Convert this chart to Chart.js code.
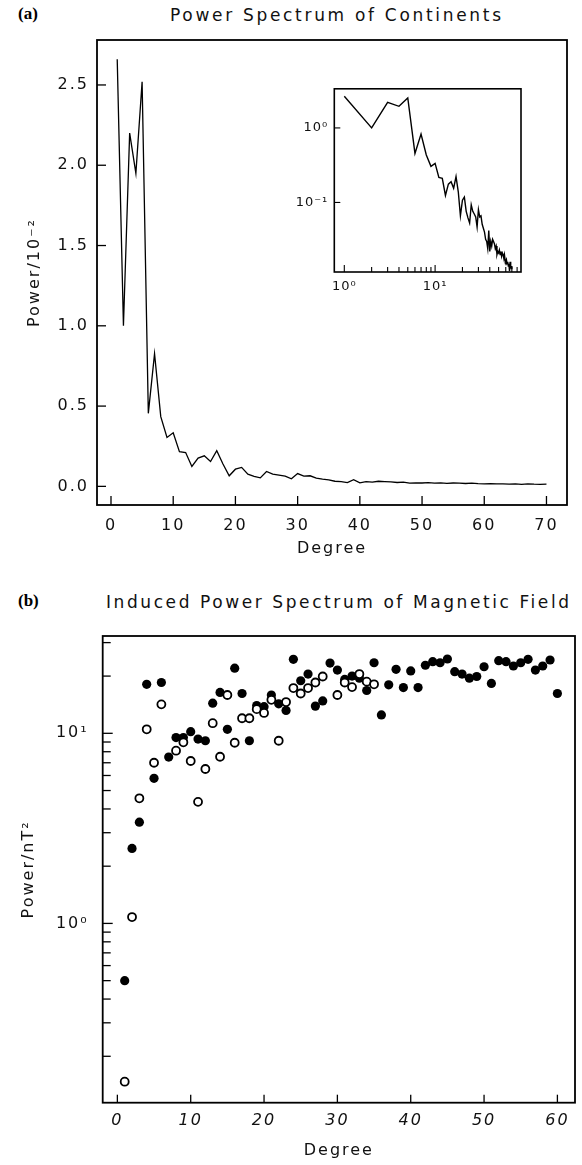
<!DOCTYPE html>
<html>
<head>
<meta charset="utf-8">
<script src="https://cdn.jsdelivr.net/npm/chart.js@4.4.1/dist/chart.umd.min.js"></script>
<style>
  html, body { margin: 0; padding: 0; background: #fff; }
  #page { position: relative; width: 582px; height: 1165px; overflow: hidden; }
  canvas { position: absolute; }
  .tag { position: absolute; font: bold 17px "Liberation Serif", serif; color: #000; }
  .ttl { position: absolute; font: 17px "DejaVu Sans", sans-serif; color: #111; white-space: nowrap; }
</style>
</head>
<body>
<div id="page">
  <div class="tag" style="left:18px;top:4px">(a)</div>
  <div class="ttl" id="ttl-a" data-left="170" data-width="331" style="top:5px">Power Spectrum of Continents</div>
  <div class="tag" style="left:18px;top:591px">(b)</div>
  <div class="ttl" id="ttl-b" data-left="106" data-width="463" style="top:592px">Induced Power Spectrum of Magnetic Field</div>

  <canvas id="chart-a" width="582" height="580" style="left:0;top:0"></canvas>
  <canvas id="chart-inset" width="260" height="225" style="left:270px;top:75px"></canvas>
  <canvas id="chart-b" width="582" height="585" style="left:0;top:580px"></canvas>
</div>

<script>
/* ========= Data ========= */
// (a) continent power spectrum, units of 10^-2
const degreesA = [
   1,  2,  3,  4,  5,  6,  7,  8,  9, 10, 11, 12, 13, 14, 15, 16, 17, 18, 19, 20,
  21, 22, 23, 24, 25, 26, 27, 28, 29, 30, 31, 32, 33, 34, 35, 36, 37, 38, 39, 40,
  41, 42, 43, 44, 45, 46, 47, 48, 49, 50, 51, 52, 53, 54, 55, 56, 57, 58, 59, 60,
  61, 62, 63, 64, 65, 66, 67, 68, 69, 70
];
const powerA = [
  2.66, 1.00, 2.20, 1.95, 2.52, 0.455, 0.826, 0.434, 0.305, 0.334,
  0.216, 0.211, 0.124, 0.176, 0.190, 0.155, 0.222, 0.139, 0.066, 0.107,
  0.118, 0.076, 0.062, 0.053, 0.093, 0.076, 0.070, 0.064, 0.047, 0.080,
  0.064, 0.066, 0.051, 0.045, 0.040, 0.032, 0.030, 0.024, 0.042, 0.022,
  0.030, 0.026, 0.032, 0.030, 0.028, 0.024, 0.026, 0.020, 0.022, 0.021,
  0.023, 0.020, 0.022, 0.019, 0.021, 0.020, 0.018, 0.020, 0.017, 0.016,
  0.017, 0.015, 0.016, 0.014, 0.015, 0.012, 0.016, 0.014, 0.013, 0.014
];

// (b) induced magnetic power, nT^2
const degreesB = [
   1,  2,  3,  4,  5,  6,  7,  8,  9, 10, 11, 12, 13, 14, 15, 16, 17, 18, 19, 20,
  21, 22, 23, 24, 25, 26, 27, 28, 29, 30, 31, 32, 33, 34, 35, 36, 37, 38, 39, 40,
  41, 42, 43, 44, 45, 46, 47, 48, 49, 50, 51, 52, 53, 54, 55, 56, 57, 58, 59, 60
];
const filledB = [
  0.50, 2.48, 3.41, 18.1, 5.8, 18.5, 7.5, 9.5, 9.5, 10.2,
  9.33, 9.14, 14.4, 16.4, 10.5, 22.0, 16.2, 9.14, 14.0, 13.8,
  15.9, 14.3, 13.2, 24.5, 18.9, 20.5, 13.9, 14.8, 23.4, 21.5,
  19.2, 20.0, 19.5, 16.8, 23.5, 12.5, 18.0, 21.7, 17.4, 21.3,
  17.4, 22.8, 23.8, 23.5, 24.6, 21.1, 20.5, 19.5, 19.9, 22.4,
  18.3, 24.1, 23.8, 22.6, 23.5, 24.5, 21.5, 22.6, 24.3, 16.2
];
const openB = [
  0.147, 1.08, 4.55, 10.5, 7.0, 14.2, null, 8.1, 8.97, 7.15,
  4.36, 6.49, 11.3, 7.53, 15.9, 8.92, 12.0, 12.0, 13.4, 12.8,
  15.0, 9.14, 14.6, 17.3, 16.2, 17.3, 18.5, 19.9, null, 15.9,
  18.5, 17.5, 20.5, 18.7, 18.1
];

// ticks
const xTicksA   = [0, 10, 20, 30, 40, 50, 60, 70];
const yTicksA   = [0, 0.5, 1.0, 1.5, 2.0, 2.5];
const xTicksB   = [0, 10, 20, 30, 40, 50, 60];
const yTicksB   = [0.2, 0.3, 0.4, 0.5, 0.6, 0.7, 0.8, 0.9, 1, 2, 3, 4, 5, 6, 7, 8, 9, 10, 20, 30];
const xTicksIn  = [1, 2, 3, 4, 5, 6, 7, 8, 9, 10, 20, 30, 40, 50, 60, 70, 80];
const yTicksIn  = [0.1, 1];
const powLabels = { 0.1: '10⁻¹', 1: '10⁰', 10: '10¹' };

const FONT = 'DejaVu Sans';
const INK  = '#111';

/* ========= Helpers ========= */
const pairs = (xs, ys) => xs.map((x, i) => ({ x, y: ys[i] })).filter(p => p.y != null);
const setTicks = list => s => { s.ticks = list.map(v => ({ value: v })); };
const fixSize = (key, size) => s => { s[key] = size; };
const isDecade = v => Math.abs(Math.log10(v) - Math.round(Math.log10(v))) < 1e-9;

// box round the plot area + tick marks pointing inward
const frameTicks = {
  id: 'frameTicks',
  beforeDraw(chart, args, o) {
    const { ctx, chartArea: a } = chart;
    ctx.letterSpacing = o.spacing || '0px';
    ctx.save();
    ctx.fillStyle = '#fff';
    ctx.fillRect(a.left, a.top, a.width, a.height);
    ctx.restore();
  },
  afterDraw(chart, args, o) {
    const { ctx, chartArea: a } = chart;
    ctx.save();
    ctx.strokeStyle = '#000';
    ctx.lineWidth = o.frame;
    ctx.strokeRect(a.left, a.top, a.width, a.height);
    ctx.lineWidth = o.tickWidth;
    ['x', 'y'].forEach(id => {
      const s = chart.scales[id];
      s.ticks.forEach(t => {
        const major = s.type !== 'logarithmic' || isDecade(t.value);
        const len = major ? o[id][0] : o[id][1];
        if (!len) return;
        const p = s.getPixelForValue(t.value);
        ctx.beginPath();
        if (id === 'x') { ctx.moveTo(p, a.bottom); ctx.lineTo(p, a.bottom - len); }
        else { ctx.moveTo(a.left, p); ctx.lineTo(a.left + len, p); }
        ctx.stroke();
      });
    });
    ctx.restore();
  }
};

const noGrid = { display: true, drawOnChartArea: false, drawTicks: false };
const noBorder = { display: false };

/* ========= (a) main ========= */
new Chart(document.getElementById('chart-a'), {
  type: 'line',
  data: {
    datasets: [{
      data: pairs(degreesA, powerA),
      borderColor: '#000', borderWidth: 1.3,
      pointRadius: 0, tension: 0, fill: false
    }]
  },
  options: {
    responsive: false, animation: false, events: [],
    layout: { padding: { left: 0, top: 40, right: 15, bottom: 0 } },
    plugins: {
      legend: { display: false }, tooltip: { enabled: false },
      frameTicks: { frame: 1.8, tickWidth: 1.3, spacing: '2px', x: [9, 0], y: [9, 0] }
    },
    scales: {
      x: {
        type: 'linear', min: -2.25, max: 73.3,
        afterBuildTicks: setTicks(xTicksA), afterFit: fixSize('height', 75),
        grid: noGrid, border: noBorder,
        ticks: { autoSkip: false, maxRotation: 0, padding: 11, color: INK,
                 font: { family: FONT, size: 16 }, callback: v => String(v) },
        title: { display: true, text: 'Degree', color: INK,
                 font: { family: FONT, size: 16 }, padding: { top: 0, bottom: 22 } }
      },
      y: {
        type: 'linear', min: -0.116, max: 2.78,
        afterBuildTicks: setTicks(yTicksA), afterFit: fixSize('width', 97),
        grid: noGrid, border: noBorder,
        ticks: { autoSkip: false, padding: 8, color: INK,
                 font: { family: FONT, size: 16 }, callback: v => v.toFixed(1) },
        title: { display: true, text: 'Power/10⁻²', color: INK,
                 font: { family: FONT, size: 16 }, padding: { top: 25, bottom: 0 } }
      }
    }
  },
  plugins: [frameTicks]
});

/* ========= (a) inset, log-log ========= */
new Chart(document.getElementById('chart-inset'), {
  type: 'line',
  data: {
    datasets: [{
      data: pairs(degreesA, powerA),
      borderColor: '#000', borderWidth: 1.4,
      pointRadius: 0, tension: 0, fill: false
    }]
  },
  options: {
    responsive: false, animation: false, events: [],
    layout: { padding: { left: 0, top: 12.5, right: 9, bottom: 0 } },
    plugins: {
      legend: { display: false }, tooltip: { enabled: false },
      frameTicks: { frame: 1.6, tickWidth: 1.1, spacing: '1px', x: [7, 5], y: [6, 0] }
    },
    scales: {
      x: {
        type: 'logarithmic', min: 0.776, max: 88.3,
        afterBuildTicks: setTicks(xTicksIn), afterFit: fixSize('height', 28),
        grid: noGrid, border: noBorder,
        ticks: { autoSkip: false, maxRotation: 0, minRotation: 0, padding: 7, color: INK,
                 font: { family: FONT, size: 13 }, callback: v => powLabels[v] || '' }
      },
      y: {
        type: 'logarithmic', min: 0.01166, max: 3.35,
        afterBuildTicks: setTicks(yTicksIn), afterFit: fixSize('width', 64.3),
        grid: noGrid, border: noBorder,
        ticks: { autoSkip: false, padding: 6, color: INK,
                 font: { family: FONT, size: 13 }, callback: v => powLabels[v] || '' }
      }
    }
  },
  plugins: [frameTicks]
});

/* ========= (b) ========= */
new Chart(document.getElementById('chart-b'), {
  type: 'scatter',
  data: {
    datasets: [
      { // open circles, drawn on top
        data: pairs(degreesB, openB),
        pointRadius: 4, pointBorderWidth: 1.8,
        pointBackgroundColor: '#fff', pointBorderColor: '#000'
      },
      {
        data: pairs(degreesB, filledB),
        pointRadius: 4.6, pointBorderWidth: 0,
        pointBackgroundColor: '#000', pointBorderColor: '#000'
      }
    ]
  },
  options: {
    responsive: false, animation: false, events: [],
    layout: { padding: { left: 0, top: 56, right: 7, bottom: 0 } },
    plugins: {
      legend: { display: false }, tooltip: { enabled: false },
      frameTicks: { frame: 1.8, tickWidth: 1.3, spacing: '2px', x: [8, 0], y: [10, 8] }
    },
    scales: {
      x: {
        type: 'linear', min: -2.0, max: 62.4,
        afterBuildTicks: setTicks(xTicksB), afterFit: fixSize('height', 62.3),
        grid: noGrid, border: noBorder,
        ticks: { autoSkip: false, maxRotation: 0, padding: 9, color: INK,
                 font: { family: FONT, size: 16, style: 'italic' }, callback: v => String(v) },
        title: { display: true, text: 'Degree', color: INK,
                 font: { family: FONT, size: 16 }, padding: { top: 0, bottom: 5 } }
      },
      y: {
        type: 'logarithmic', min: 0.114, max: 32.5,
        afterBuildTicks: setTicks(yTicksB), afterFit: fixSize('width', 102.7),
        grid: noGrid, border: noBorder,
        ticks: { autoSkip: false, padding: 14, color: INK,
                 font: { family: FONT, size: 16 }, callback: v => powLabels[v] || '' },
        title: { display: true, text: 'Power/nT²', color: INK,
                 font: { family: FONT, size: 16 }, padding: { top: 19, bottom: 0 } }
      }
    }
  },
  plugins: [frameTicks]
});

/* ========= Titles: stretch to the original width ========= */
const measure = document.createElement('canvas').getContext('2d');
document.querySelectorAll('.ttl').forEach(el => {
  measure.font = '17px "' + FONT + '"';
  const text = el.textContent;
  const w = measure.measureText(text).width;
  const target = Number(el.dataset.width);
  el.style.letterSpacing = ((target - w) / (text.length - 1)) + 'px';
  el.style.left = el.dataset.left + 'px';
});
</script>
</body>
</html>
